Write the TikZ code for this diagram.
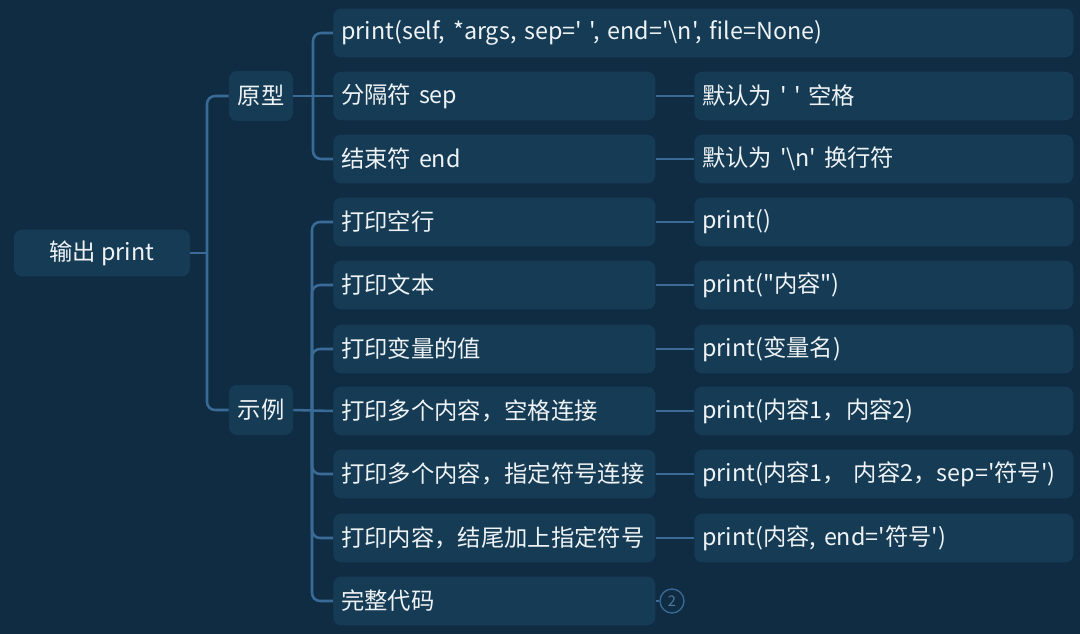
\documentclass[tikz,border=0pt]{standalone}
\usepackage{fontspec}
\newfontfamily\cjk{Noto Sans CJK SC}[Ligatures=TeXOff]
\definecolor{bg}{HTML}{102C42}
\definecolor{nodefill}{HTML}{163B55}
\definecolor{conn}{HTML}{3A6B96}
\definecolor{txt}{HTML}{EEF3F6}
\begin{document}
\begin{tikzpicture}[x=0.75pt,y=-0.75pt,
 base/.style={fill=nodefill, rounded corners=6pt, text=txt, font=\cjk\fontsize{17.5}{20}\selectfont, inner ysep=0pt, minimum height=36.5pt},
 rootbox/.style={base, minimum width=132pt, minimum height=35pt},
 midbox/.style={base, minimum width=48pt, minimum height=37.5pt, inner xsep=0pt},
 leafbox/.style={base, anchor=west, text width=229.5pt, inner xsep=6pt, align=left},
 widebox/.style={leafbox, text width=543pt},
 codebox/.style={leafbox, text width=272.25pt},
 link/.style={draw=conn, line width=1.9pt, rounded corners=6pt},
 morebox/.style={circle, draw=conn, line width=1pt, minimum size=18pt, inner sep=0pt, text=conn!90!white, font=\cjk\fontsize{11}{12}\selectfont},
]
\useasboundingbox[fill=bg] (0,0) rectangle (1080,634);
\coordinate (t1) at (207,0);
\coordinate (t2) at (313,0);
\coordinate (t3) at (312,0);

\node[rootbox] (root) at (102,253) {输出 print};
\node[midbox] (yx) at (261,96) {原型};
\node[midbox] (sl) at (261,410) {示例};

\node[widebox] (p0) at (333,33) {print(self, *args, sep=' ', end='\textbackslash n', file=None)};
\node[leafbox] (sep) at (333,96) {分隔符 sep};
\node[leafbox] (end) at (333,159) {结束符 end};
\node[codebox] (sepd) at (694,96) {默认为 ' ' 空格};
\node[codebox] (endd) at (694,159) {默认为 '\textbackslash n' 换行符};

\node[leafbox] (e1) at (333,222) {打印空行};
\node[leafbox] (e2) at (333,285) {打印文本};
\node[leafbox] (e3) at (333,349) {打印变量的值};
\node[leafbox] (e4) at (333,411) {打印多个内容，空格连接};
\node[leafbox] (e5) at (333,474) {打印多个内容，指定符号连接};
\node[leafbox] (e6) at (333,538) {打印内容，结尾加上指定符号};
\node[leafbox] (e7) at (333,601) {完整代码};

\node[codebox] (c1) at (694,222) {print()};
\node[codebox] (c2) at (694,285) {print("内容")};
\node[codebox] (c3) at (694,349) {print(变量名)};
\node[codebox] (c4) at (694,411) {print(内容1，内容2)};
\node[codebox] (c5) at (694,474) {print(内容1， 内容2，sep='符号')};
\node[codebox] (c6) at (694,538) {print(内容, end='符号')};
\node[morebox] (more) at (672,601) {2};

% root connectors
\draw[link] (root.east) -- (root.east -| t1);
\draw[link] (yx.west) -- (yx.west -| t1) -- (sl.west -| t1) -- (sl.west);

% prototype branch
\draw[link] (yx.east) -- (sep.west);
\draw[link] (p0.west) -- (p0.west -| t2) -- (end.west -| t2) -- (end.west);

% example branch
\draw[link] (sl.east) -- (e4.west);
\foreach \c in {e1,e2,e3,e5,e6,e7}
  \draw[link] (sl.east -| t3) -- (\c.west -| t3) -- (\c.west);

% leaf connectors
\draw[link] (sep.east) -- (sepd.west);
\draw[link] (end.east) -- (endd.west);
\draw[link] (e1.east) -- (c1.west);
\draw[link] (e2.east) -- (c2.west);
\draw[link] (e3.east) -- (c3.west);
\draw[link] (e4.east) -- (c4.west);
\draw[link] (e5.east) -- (c5.west);
\draw[link] (e6.east) -- (c6.west);
\draw[link] (e7.east) -- (more.west);
\end{tikzpicture}
\end{document}
